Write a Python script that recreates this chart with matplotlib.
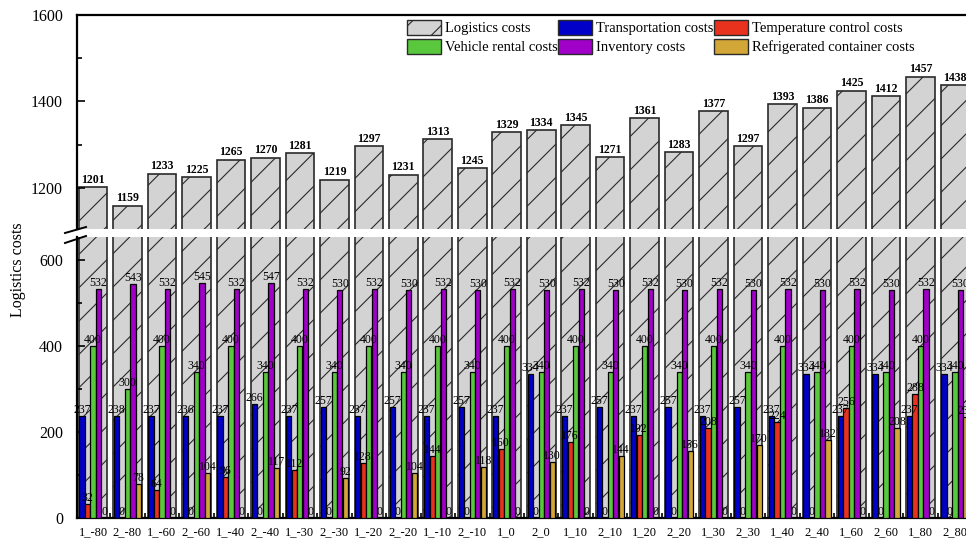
import matplotlib
import numpy as np

matplotlib.use("Agg")
from matplotlib import pyplot as plt
from matplotlib.lines import Line2D
from matplotlib.patches import Patch
from matplotlib.ticker import MultipleLocator

plt.rcParams["font.family"] = ["Liberation Serif", "DejaVu Serif"]
plt.rcParams["hatch.linewidth"] = 0.8

scenarios = ["1_-80", "2_-80", "1_-60", "2_-60", "1_-40", "2_-40", "1_-30",
             "2_-30", "1_-20", "2_-20", "1_-10", "2_-10", "1_0", "2_0",
             "1_10", "2_10", "1_20", "2_20", "1_30", "2_30", "1_40", "2_40",
             "1_60", "2_60", "1_80", "2_80"]
logistics = [1201, 1159, 1233, 1225, 1265, 1270, 1281, 1219, 1297, 1231,
             1313, 1245, 1329, 1334, 1345, 1271, 1361, 1283, 1377, 1297,
             1393, 1386, 1425, 1412, 1457, 1438]
transport = [237, 238, 237, 236, 237, 266, 237, 257, 237, 257, 237, 257, 237,
             334, 237, 257, 237, 257, 237, 257, 237, 334, 237, 334, 237, 334]
temperature = [32, 0, 64, 0, 96, 0, 112, 0, 128, 0, 144, 0, 160, 0, 176, 0,
               192, 0, 208, 0, 224, 0, 256, 0, 288, 0]
rental = [400, 300, 400, 340, 400, 340, 400, 340, 400, 340, 400, 340, 400,
          340, 400, 340, 400, 340, 400, 340, 400, 340, 400, 340, 400, 340]
inventory = [532, 543, 532, 545, 532, 547, 532, 530, 532, 530, 532, 530, 532,
             530, 532, 530, 532, 530, 532, 530, 532, 530, 532, 530, 532, 530]
container = [0, 78, 0, 104, 0, 117, 0, 92, 0, 104, 0, 118, 0, 130, 0, 144,
             0, 156, 0, 170, 0, 182, 0, 208, 0, 234]

series = [
    ("Transportation costs", transport, "#0000c8"),
    ("Temperature control costs", temperature, "#e8321e"),
    ("Vehicle rental costs", rental, "#5ac83c"),
    ("Inventory costs", inventory, "#a000c8"),
    ("Refrigerated container costs", container, "#d2a637"),
]

W, H = 966, 544
fig = plt.figure(figsize=(W / 100, H / 100), dpi=100)
left = 77 / W
ax_t = fig.add_axes([left, 1 - 229 / H, 1.0 - left, (229 - 15) / H])
ax_b = fig.add_axes([left, 1 - 518 / H, 1.0 - left, (518 - 237) / H])

x = np.arange(len(scenarios))
gray_w = 0.83
w = 0.16
edge = "#2a2a2a"

for ax in (ax_t, ax_b):
    ax.bar(x, logistics, gray_w, color="#d3d3d3", edgecolor=edge,
           linewidth=1.2, hatch="/", zorder=1)
    ax.set_xlim(-0.464, 25.32)
    ax.xaxis.set_major_locator(MultipleLocator(1))
    ax.xaxis.set_minor_locator(MultipleLocator(1, offset=0.5))
    ax.tick_params(which="both", direction="in", width=1.2)
    ax.tick_params(axis="y", labelsize=11.5, pad=10)
    ax.tick_params(which="major", length=6)
    ax.tick_params(which="minor", length=3.5)
    ax.spines["right"].set_visible(False)
    for s in ax.spines.values():
        s.set_linewidth(1.6)

for i, (name, vals, col) in enumerate(series):
    bars = ax_b.bar(x + (i - 2) * w, vals, w * 0.95, color=col,
                    edgecolor="black", linewidth=0.9, zorder=3)
    ax_b.bar_label(bars, labels=[str(v) for v in vals], padding=0,
                   fontsize=8.5, zorder=4)

tops = ax_t.bar(x, logistics, gray_w, color="none", edgecolor="none")
ax_t.bar_label(tops, labels=[str(v) for v in logistics], padding=1,
               fontsize=8.5, fontweight="bold")

ax_t.set_ylim(1105, 1600)
ax_t.set_yticks([1200, 1400, 1600])
ax_t.yaxis.set_minor_locator(MultipleLocator(100))
ax_t.spines["bottom"].set_visible(False)
ax_t.tick_params(axis="x", which="both", bottom=False, labelbottom=False)

ax_b.set_ylim(0, 653)
ax_b.set_yticks([0, 200, 400, 600])
ax_b.yaxis.set_minor_locator(MultipleLocator(100))
ax_b.spines["top"].set_visible(False)
ax_b.set_xticks(x)
ax_b.set_xticklabels(scenarios)
ax_b.tick_params(axis="x", labelsize=9, pad=6)

# axis break marks
for y0, y1 in [(233, 227), (243, 236)]:
    fig.add_artist(Line2D([65 / W, 86 / W], [1 - y0 / H, 1 - y1 / H],
                          color="black", linewidth=1.4))

fig.text(18 / W, 1 - 270 / H, "Logistics costs", rotation=90,
         ha="center", va="center", fontsize=11.5)

handles = [
    Patch(facecolor="#d3d3d3", edgecolor=edge, hatch="/", label="Logistics costs"),
    Patch(facecolor="#5ac83c", edgecolor=edge, label="Vehicle rental costs"),
    Patch(facecolor="#0000c8", edgecolor=edge, label="Transportation costs"),
    Patch(facecolor="#a000c8", edgecolor=edge, label="Inventory costs"),
    Patch(facecolor="#e8321e", edgecolor=edge, label="Temperature control costs"),
    Patch(facecolor="#d2a637", edgecolor=edge, label="Refrigerated container costs"),
]
fig.legend(handles=handles, ncol=3, loc="upper left",
           bbox_to_anchor=(407 / W, 1 - 20 / H), frameon=False, fontsize=10.5,
           handlelength=2.3, handleheight=1.2, handletextpad=0.3,
           columnspacing=0.05, labelspacing=0.25, borderpad=0, borderaxespad=0)

fig.savefig("out.png", dpi=100)
plt.close(fig)
